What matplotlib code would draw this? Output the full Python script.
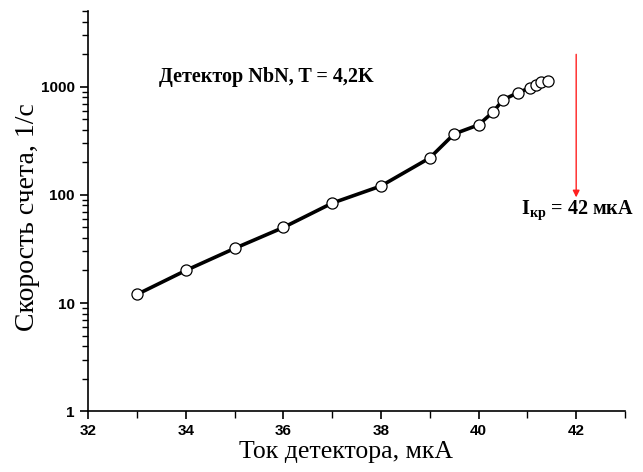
import matplotlib
matplotlib.use('Agg')
import matplotlib.pyplot as plt
from matplotlib.ticker import FixedLocator, LogLocator, NullFormatter, MultipleLocator

# data
current_ua = [33, 34, 35, 36, 37, 38, 39, 39.5, 40, 40.3, 40.5, 40.8, 41.05, 41.18, 41.28, 41.43]
count_rate = [12, 20, 32, 50, 84, 121, 220, 367, 445, 587, 759, 880, 980, 1047, 1112, 1136]

x_ticks = [32, 34, 36, 38, 40, 42]
y_ticks = [1, 10, 100, 1000]
y_tick_labels = ['1', '10', '100', '1000']

critical_current = 42

plt.rcParams['mathtext.fontset'] = 'custom'
plt.rcParams['mathtext.rm'] = 'Liberation Serif'
plt.rcParams['mathtext.bf'] = 'Liberation Serif:bold'

fig = plt.figure(figsize=(6.43, 4.72), dpi=100)
ax = fig.add_axes([0.137, 0.129, 0.835, 0.847])

ax.plot(current_ua, count_rate, color='black', lw=2.6, marker='o', ms=8,
        mfc='white', mec='black', mew=0.9)

ax.set_yscale('log')
ax.set_xlim(32, 43)
ax.set_ylim(1, 5000)

ax.xaxis.set_major_locator(FixedLocator(x_ticks))
ax.xaxis.set_minor_locator(MultipleLocator(1))
ax.yaxis.set_major_locator(FixedLocator(y_ticks))
ax.yaxis.set_minor_locator(LogLocator(base=10, subs=range(2, 10)))
ax.yaxis.set_minor_formatter(NullFormatter())
ax.set_yticklabels(y_tick_labels)

for lab in ax.get_xticklabels() + ax.get_yticklabels():
    lab.set_family('Liberation Sans')
    lab.set_fontweight('bold')
    lab.set_fontsize(11)

ax.tick_params(which='major', direction='out', length=6, width=1.2, color='black')
ax.tick_params(which='minor', direction='out', length=4, width=1.0, color='black')
ax.tick_params(axis='x', which='minor', length=5)

ax.spines['top'].set_visible(False)
ax.spines['right'].set_visible(False)
ax.spines['left'].set_linewidth(1.2)
ax.spines['bottom'].set_linewidth(1.2)

ax.set_xlabel('Ток детектора, мкА', family='Liberation Serif', fontsize=18.5)
ax.set_ylabel('Скорость счета, 1/с', family='Liberation Serif', fontsize=20)
ax.xaxis.set_label_coords(0.48, -0.075)
ax.yaxis.set_label_coords(-0.09, 0.485)

ax.text(33.45, 1240, 'Детектор NbN, T = 4,2K', family='Liberation Serif',
        fontweight='bold', fontsize=14.5, va='center', ha='left')

ax.annotate('', xy=(critical_current, 95), xytext=(critical_current, 2000),
            arrowprops=dict(arrowstyle='-|>', color='#ff2020', lw=1.0,
                            mutation_scale=10, shrinkA=0, shrinkB=0))

ax.text(40.87, 72, r'$\mathbf{I}_{\mathbf{кр}}$ = 42 мкА', family='Liberation Serif',
        fontweight='bold', fontsize=14.5, va='center', ha='left')

fig.savefig('out.png', dpi=100)
